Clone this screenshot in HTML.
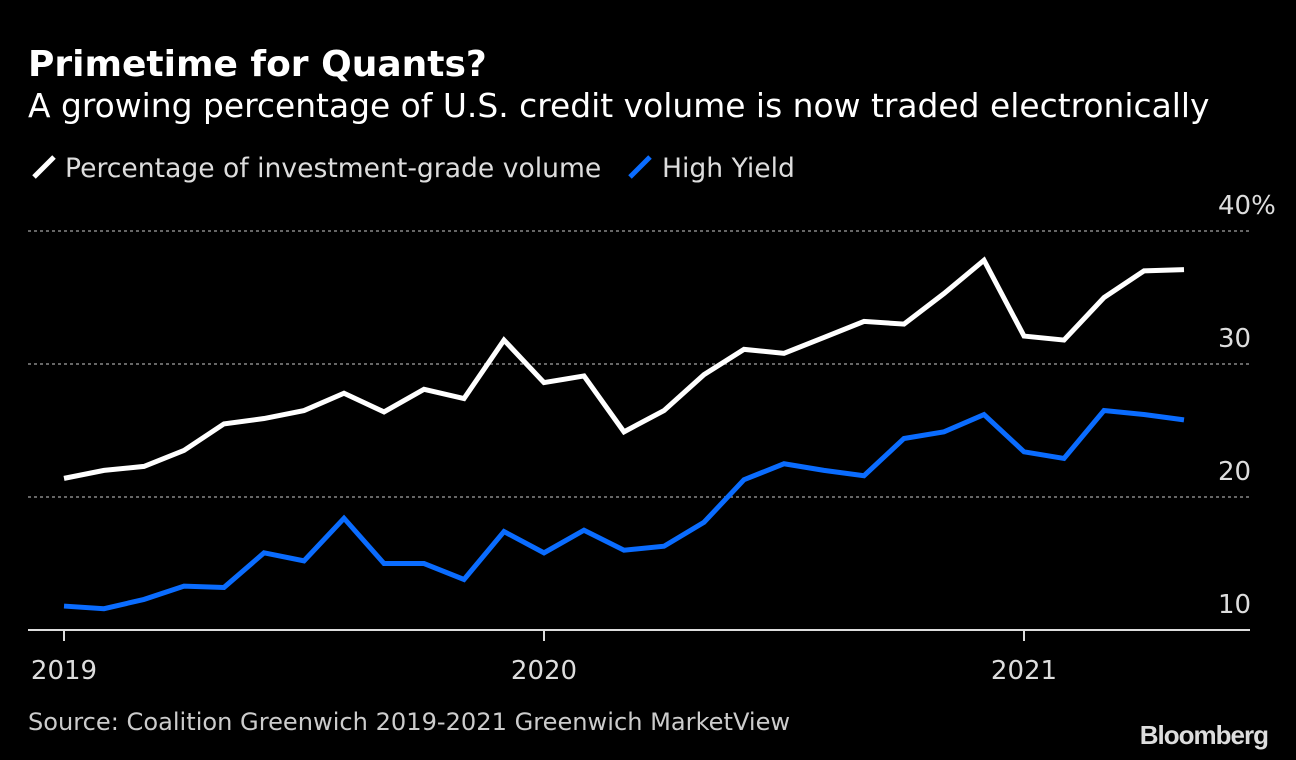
<!DOCTYPE html>
<html><head><meta charset="utf-8">
<style>
body{margin:0;background:#000;width:1296px;height:760px;overflow:hidden;font-family:"Liberation Sans","DejaVu Sans",sans-serif;}
svg{display:block}
</style></head>
<body>
<svg id="chart" width="1296" height="760" xmlns="http://www.w3.org/2000/svg">
<rect width="1296" height="760" fill="#000"/>
<text x="28" y="76" fill="#fff" font-size="36" font-weight="bold" font-family="DejaVu Sans, sans-serif">Primetime for Quants?</text>
<text x="28" y="117" fill="#fff" font-size="32.9" font-family="DejaVu Sans, sans-serif">A growing percentage of U.S. credit volume is now traded electronically</text>
<g font-family="DejaVu Sans, sans-serif" font-size="26.6" fill="#ddd">
<line x1="34" y1="177" x2="54" y2="157" stroke="#fff" stroke-width="5"/>
<text x="65" y="177">Percentage of investment-grade volume</text>
<line x1="630" y1="177" x2="650" y2="157" stroke="#0a6cff" stroke-width="5"/>
<text x="662" y="177">High Yield</text>
</g>
<g id="grid"></g>
<g id="series"></g>
<text x="28" y="730" fill="#ccc" font-size="24.1" font-family="DejaVu Sans, sans-serif">Source: Coalition Greenwich 2019-2021 Greenwich MarketView</text>
<text x="1268" y="744" fill="#ddd" font-size="26" font-weight="bold" text-anchor="end" letter-spacing="-1">Bloomberg</text>
</svg>
<script>
const igValues=[21.4,22.0,22.3,23.5,25.5,25.9,26.5,27.8,26.4,28.1,27.4,31.8,28.6,29.1,24.9,26.5,29.2,31.1,30.8,32.0,33.2,33.0,35.3,37.8,32.1,31.8,35.0,37.0,37.1];
const hyValues=[11.8,11.6,12.3,13.3,13.2,15.8,15.2,18.4,15.0,15.0,13.8,17.4,15.8,17.5,16.0,16.3,18.1,21.3,22.5,22.0,21.6,24.4,24.9,26.2,23.4,22.9,26.5,26.2,25.8];
const yTicks=[10,20,30,40];
const yTickLabels=["10","20","30","40%"];
const xTickMonths=[0,12,24];
const xTickLabels=["2019","2020","2021"];
const NS="http://www.w3.org/2000/svg";
function xScale(i){return 64+i*40;}
function yScale(v){return 630-(v-10)*13.3;}
const grid=document.getElementById('grid');
const series=document.getElementById('series');
function mk(tag,attrs,parent){const e=document.createElementNS(NS,tag);for(const k in attrs)e.setAttribute(k,attrs[k]);parent.appendChild(e);return e;}
yTicks.forEach((t,i)=>{
  const y=yScale(t);
  if(i>0){const l=mk('line',{x1:28,x2:1250,y1:y,y2:y,stroke:'#888','stroke-width':1.5,'stroke-dasharray':'3,3'},grid);
  
  }
  const tx=mk('text',{x:1218,y:y-17,fill:'#ddd','font-size':26,'text-anchor':'start','font-family':'DejaVu Sans, sans-serif'},grid);
  tx.textContent=yTickLabels[i];
  
  
});
const ax=mk('line',{x1:28,x2:1250,y1:630,y2:630,stroke:'#ddd','stroke-width':2},grid);


xTickMonths.forEach((m,i)=>{
  const x=xScale(m);
  const tk=mk('line',{x1:x,x2:x,y1:630,y2:641,stroke:'#ddd','stroke-width':2},grid);
  
  
  const tx=mk('text',{x:x,y:679,fill:'#ddd','font-size':26,'text-anchor':'middle','font-family':'DejaVu Sans, sans-serif'},grid);
  tx.textContent=xTickLabels[i];
  
  
});
function line(vals,color,name){
  const d=vals.map((v,i)=>(i?'L':'M')+xScale(i)+','+yScale(v)).join(' ');
  const p=mk('path',{d:d,fill:'none',stroke:color,'stroke-width':5,'stroke-linejoin':'miter'},series);
  
  
}
line(hyValues,'#0a6cff','high-yield-line');
line(igValues,'#ffffff','investment-grade-line');
</script>
</body></html>
